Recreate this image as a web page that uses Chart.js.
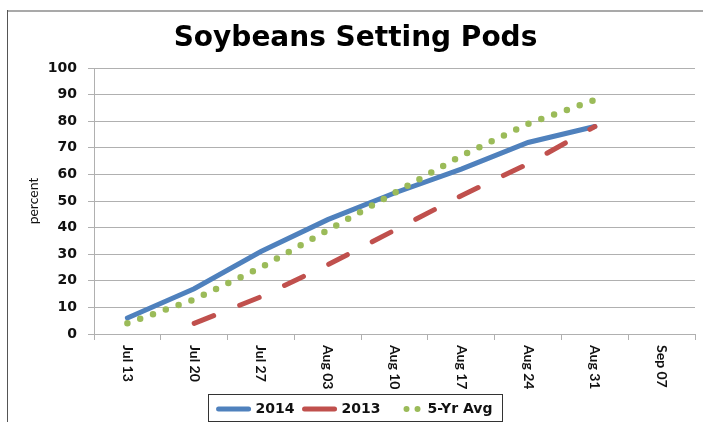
<!DOCTYPE html>
<html>
<head>
<meta charset="utf-8">
<script src="https://cdn.jsdelivr.net/npm/chart.js@4.4.1/dist/chart.umd.min.js"></script>
<style>
  html, body { margin: 0; padding: 0; background: #fff; overflow: hidden; }
  #wrap { position: relative; width: 703px; height: 426px; }
</style>
</head>
<body>
<div id="wrap"><canvas id="podsChart"></canvas></div>
<script>
const weeks = ['Jul 13', 'Jul 20', 'Jul 27', 'Aug 03', 'Aug 10', 'Aug 17', 'Aug 24', 'Aug 31', 'Sep 07'];
const pods2014 = [6, 17, 31, 43, 53, 62, 72, 78, null];
const pods2013 = [null, 4, 14, 26, 39, 52, 64, 78, null];
const podsAvg = [4, 13, 25, 39, 53, 67, 79, 88, null];
const yTicks = [0, 10, 20, 30, 40, 50, 60, 70, 80, 90, 100];

const gridGray = '#b0b0b0';

// frame, clockwise x labels and the box round the legend
const extras = {
  id: 'extras',
  beforeDraw(chart) {
    const ctx = chart.ctx;
    ctx.save();
    ctx.fillStyle = '#fff';
    ctx.fillRect(0, 0, chart.width, chart.height);
    ctx.strokeStyle = '#a9a9a9';
    ctx.lineWidth = 2;
    ctx.beginPath(); ctx.moveTo(7, 11); ctx.lineTo(chart.width, 11); ctx.stroke();
    ctx.strokeStyle = '#555';
    ctx.lineWidth = 1;
    ctx.beginPath(); ctx.moveTo(7.5, 10); ctx.lineTo(7.5, chart.height); ctx.stroke();
    ctx.restore();
  },
  afterDraw(chart) {
    const ctx = chart.ctx;
    const xs = chart.scales.x;
    ctx.save();
    ctx.font = 'bold 14px Lato';
    ctx.fillStyle = '#111';
    ctx.textAlign = 'left';
    ctx.textBaseline = 'middle';
    weeks.forEach((w, i) => {
      ctx.save();
      ctx.translate(xs.getPixelForTick(i), xs.top + 11);
      ctx.rotate(Math.PI / 2);
      ctx.fillText(w, 0, 0);
      ctx.restore();
    });
    const hb = chart.legend.legendHitBoxes;
    if (hb && hb.length) {
      const last = hb[hb.length - 1];
      const cy = hb[0].top + hb[0].height / 2;
      const l = hb[0].left - 11, r = last.left + last.width + 9;
      ctx.strokeStyle = '#333';
      ctx.lineWidth = 1;
      ctx.strokeRect(Math.round(l) + 0.5, Math.round(cy - 15) + 0.5, Math.round(r - l), 27);
    }
    ctx.restore();
  }
};

new Chart(document.getElementById('podsChart'), {
  type: 'line',
  data: {
    labels: weeks,
    datasets: [{
      label: '2014',
      data: pods2014,
      borderColor: '#4f81bd',
      borderWidth: 5,
      borderCapStyle: 'round',
      order: 3
    }, {
      label: '2013',
      data: pods2013,
      borderColor: '#c0504d',
      borderWidth: 5,
      borderDash: [21, 28],
      borderCapStyle: 'round',
      order: 2
    }, {
      label: '5-Yr Avg',
      data: podsAvg,
      borderColor: '#9bbb59',
      borderWidth: 6.5,
      borderDash: [0, 13.6],
      borderCapStyle: 'round',
      order: 1
    }]
  },
  options: {
    responsive: true,
    maintainAspectRatio: false,
    animation: false,
    devicePixelRatio: 1,
    layout: { padding: { left: 16, right: 8, top: 0, bottom: 0 } },
    elements: {
      point: { radius: 0, hoverRadius: 0 },
      line: { tension: 0, fill: false }
    },
    scales: {
      x: {
        offset: true,
        grid: { offset: true, drawOnChartArea: false, drawTicks: true, tickLength: 6, color: gridGray },
        border: { display: true, color: gridGray, width: 1 },
        ticks: { color: 'rgba(0,0,0,0)', minRotation: 90, maxRotation: 90, autoSkip: false },
        afterFit(scale) { scale.height = 58; }
      },
      y: {
        min: 0,
        max: 100,
        afterBuildTicks(scale) { scale.ticks = yTicks.map(v => ({ value: v })); },
        grid: { color: gridGray, lineWidth: 1, tickLength: 6 },
        border: { display: true, color: gridGray, width: 1 },
        ticks: {
          padding: 11,
          color: '#111',
          font: { family: 'DejaVu Sans', size: 14, weight: 'bold' }
        },
        title: {
          display: true,
          text: 'percent',
          color: '#111',
          font: { family: 'Lato', size: 14 },
          padding: { top: 9, bottom: 0 }
        },
        afterFit(scale) { scale.width = 78; }
      }
    },
    plugins: {
      title: {
        display: true,
        text: 'Soybeans Setting Pods',
        color: '#000',
        font: { family: 'DejaVu Sans', size: 28, weight: 'bold' },
        padding: { top: 22, bottom: 12.4 }
      },
      legend: {
        position: 'bottom',
        labels: {
          usePointStyle: true,
          pointStyleWidth: 30,
          padding: 10,
          color: '#111',
          font: { family: 'DejaVu Sans', size: 14, weight: 'bold' },
          generateLabels(chart) {
            return chart.data.datasets.map((ds, i) => ({
              text: ds.label,
              strokeStyle: ds.borderColor,
              fillStyle: ds.borderColor,
              lineWidth: i === 2 ? 6 : 5,
              lineCap: 'round',
              lineDash: i === 2 ? [0, 11, 0, 40] : [],
              lineDashOffset: i === 2 ? -16 : 0,
              pointStyle: 'line',
              hidden: false,
              datasetIndex: i,
              fontColor: '#111'
            }));
          }
        }
      },
      tooltip: { enabled: false }
    }
  },
  plugins: [extras]
});
</script>
</body>
</html>
